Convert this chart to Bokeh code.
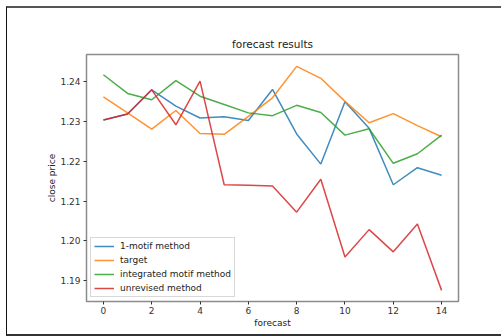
from bokeh.plotting import figure
from bokeh.embed import file_html
from bokeh.resources import INLINE
from bokeh.models import Range1d, Legend, LegendItem, FixedTicker, InlineStyleSheet

x = list(range(15))
motif1 = [1.2304, 1.2319, 1.2380, 1.2339, 1.2309, 1.2312, 1.2303, 1.2381, 1.2269, 1.2193, 1.2350, 1.2283, 1.2141, 1.2184, 1.2165]
target = [1.2362, 1.2322, 1.2281, 1.2328, 1.2270, 1.2268, 1.2313, 1.2360, 1.2439, 1.2409, 1.2351, 1.2297, 1.2320, 1.2290, 1.2262]
integrated = [1.2418, 1.2371, 1.2355, 1.2403, 1.2364, 1.2343, 1.2322, 1.2315, 1.2341, 1.2323, 1.2266, 1.2282, 1.2195, 1.2219, 1.2266]
unrevised = [1.2304, 1.2319, 1.2380, 1.2292, 1.2402, 1.2141, 1.2140, 1.2138, 1.2072, 1.2155, 1.1959, 1.2028, 1.1972, 1.2042, 1.1875]
x_ticks = [0, 2, 4, 6, 8, 10, 12, 14]
y_ticks = [1.19, 1.20, 1.21, 1.22, 1.23, 1.24]

FONT = "DejaVu Sans"
p = figure(width=495, height=330, output_backend="svg", toolbar_location=None,
           x_range=Range1d(-0.7, 14.7), y_range=Range1d(1.1847, 1.2469),
           min_border_left=79, min_border_right=44, min_border_top=46, min_border_bottom=37,
           title="forecast results")
p.stylesheets = [InlineStyleSheet(css=":host { position: relative; left: 6px; top: 6px; overflow: hidden; border-top: 2px solid #555; border-left: 1px solid #111; border-bottom: 2px solid #333; box-sizing: border-box; }")]
p.title.align = "center"
p.title.text_font = FONT
p.title.text_font_size = "10.5px"
p.title.text_font_style = "normal"
p.title.text_color = "#222"
p.grid.visible = False
p.outline_line_color = "#8c8c8c"
p.outline_line_width = 1.5

colors = ["#1f77b4", "#ff7f0e", "#2ca02c", "#d62728"]
names = ["1-motif method", "target", "integrated motif method", "unrevised method"]
series = [motif1, target, integrated, unrevised]
items = []
for s, c, n in zip(series, colors, names):
    r = p.line(x, s, line_color=c, line_width=1.5, line_alpha=0.85)
    items.append(LegendItem(label=n, renderers=[r]))

leg = Legend(items=items, location="bottom_left", label_text_font=FONT,
             label_text_font_size="9px", label_text_color="#222",
             glyph_width=20, glyph_height=10, label_height=10, spacing=4,
             padding=3, margin=4, border_line_color="#d8d8d8", border_line_alpha=1,
             background_fill_alpha=0.8, label_standoff=6)
p.add_layout(leg)

for ax in (p.xaxis, p.yaxis):
    ax.axis_line_color = None
    ax.major_tick_line_color = "#333"
    ax.minor_tick_line_color = None
    ax.major_tick_in = 0
    ax.major_tick_out = 3
    ax.major_label_text_font = FONT
    ax.major_label_text_font_size = "9px"
    ax.major_label_text_color = "#333"
    ax.axis_label_text_font = FONT
    ax.axis_label_text_font_size = "9px"
    ax.axis_label_text_font_style = "normal"
    ax.axis_label_text_color = "#222"

p.xaxis.ticker = FixedTicker(ticks=x_ticks)
p.yaxis.ticker = FixedTicker(ticks=y_ticks)
p.yaxis.major_label_overrides = {t: f"{t:.2f}" for t in y_ticks}
p.xaxis.axis_label = "forecast"
p.yaxis.axis_label = "close price"
p.xaxis.major_label_standoff = 2
p.xaxis.axis_label_standoff = 1
p.yaxis.major_label_standoff = 3
p.yaxis.axis_label_standoff = 0

open("out.html", "w").write(file_html(p, INLINE))
